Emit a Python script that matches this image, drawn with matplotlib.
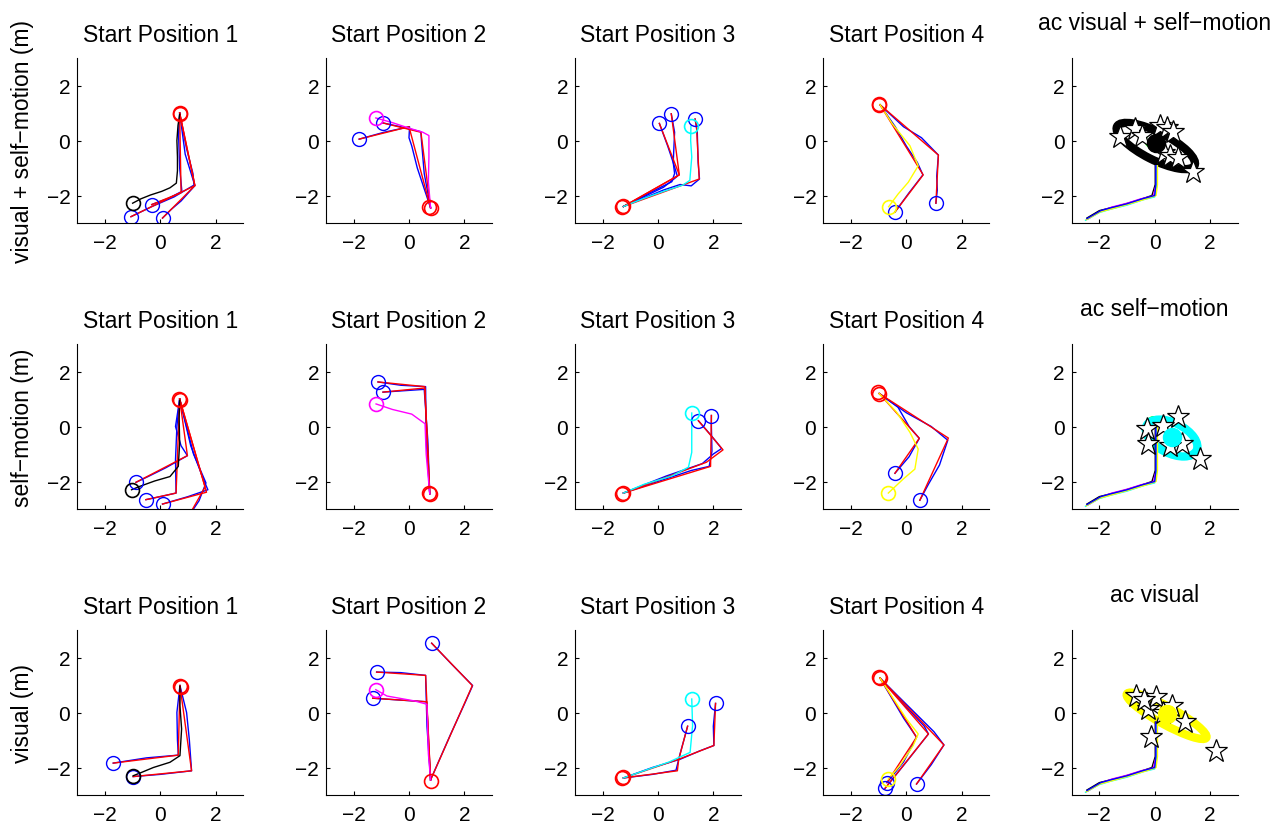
"""walking trajectories per start position, plus averaged ac panels"""
import matplotlib
matplotlib.use("Agg")
import matplotlib.pyplot as plt
from matplotlib.patches import Ellipse

plt.rcParams['font.family'] = ['Liberation Sans', 'DejaVu Sans']

row_labels = ['visual + self\u2212motion (m)', 'self\u2212motion (m)', 'visual (m)']
col_titles = ['Start Position 1', 'Start Position 2', 'Start Position 3', 'Start Position 4']
ac_titles = ['ac visual + self\u2212motion', 'ac self\u2212motion', 'ac visual']

# matlab-style pure colours
K, M, C, Y = '#000000', '#ff00ff', '#00ffff', '#ffff00'
B, R, G = '#0000ff', '#ff0000', '#00ff00'
ac_colors = [K, M, C, Y]   # colour of the ac path for start positions 1-4

# ---- row 1: visual + self-motion ----
vsm1_start = [(0.70, 1.00), (0.73, 0.96)]
vsm1_ac = [(0.70, 0.95), (0.64, 0.55), (0.60, 0.0), (0.62, -0.6), (0.62, -1.1), (0.58, -1.55),
           (0.35, -1.72), (0.05, -1.85), (-0.35, -1.98), (-0.70, -2.12), (-1.00, -2.28)]
vsm1_red = [[(0.70, 1.0), (0.75, -1.90), (-0.31, -2.33)],
            [(0.70, 1.0), (1.25, -1.64), (-1.06, -2.77)],
            [(0.70, 1.0), (1.25, -1.64), (0.08, -2.82)]]
vsm1_blue = [[(0.70, 1.0), (0.66, 0.2), (0.70, -1.0), (0.78, -1.85), (0.30, -2.10), (-0.31, -2.33)],
             [(0.70, 1.0), (0.95, -0.3), (1.18, -1.2), (1.22, -1.62), (0.50, -2.05), (-0.30, -2.40), (-1.06, -2.77)],
             [(0.70, 1.0), (0.90, -0.5), (1.25, -1.64), (0.75, -2.20), (0.40, -2.50), (0.08, -2.82)]]

vsm2_start = [(0.78, -2.47), (0.74, -2.42)]
vsm2_ac = [(0.78, -2.45), (0.70, -1.5), (0.72, -0.6), (0.72, 0.18), (0.50, 0.30), (0.0, 0.45),
           (-0.60, 0.65), (-1.20, 0.82)]
vsm2_red = [[(0.78, -2.45), (0.43, 0.30), (-0.95, 0.64)],
            [(0.78, -2.45), (0.0, 0.50), (-1.80, 0.05)]]
vsm2_blue = [[(0.78, -2.45), (0.55, -1.2), (0.45, 0.0), (0.43, 0.32), (-0.30, 0.50), (-0.95, 0.64)],
             [(0.78, -2.45), (0.30, -1.0), (0.10, -0.2), (0.0, 0.1), (0.02, 0.50), (-0.90, 0.30), (-1.80, 0.05)]]

vsm3_start = [(-1.30, -2.43), (-1.25, -2.38)]
vsm3_ac = [(-1.25, -2.40), (-0.50, -2.10), (0.20, -1.85), (0.90, -1.62), (1.15, -1.45), (1.22, -0.6),
           (1.18, 0.0), (1.19, 0.52)]
vsm3_red = [[(-1.25, -2.40), (0.77, -1.25), (0.05, 0.62)],
            [(-1.25, -2.40), (0.77, -1.25), (0.48, 0.97)],
            [(-1.25, -2.40), (1.49, -1.40), (1.39, 0.54), (1.34, 0.78)]]
vsm3_blue = [[(-1.25, -2.40), (-0.30, -1.90), (0.50, -1.50), (0.60, -1.20), (0.55, -0.80), (0.35, -0.20), (0.05, 0.62)],
             [(-1.25, -2.40), (0.20, -1.70), (0.70, -1.30), (0.55, -0.80), (0.60, 0.30), (0.48, 0.97)],
             [(-1.25, -2.40), (0.20, -1.80), (0.80, -1.60), (1.20, -1.65), (1.50, -1.40), (1.45, -0.80),
              (1.42, 0.30), (1.34, 0.78)]]

vsm4_start = [(-0.99, 1.33), (-0.97, 1.30)]
vsm4_ac = [(-0.95, 1.30), (-0.50, 0.60), (0.13, -0.19), (0.43, -0.92), (0.07, -1.52), (-0.30, -1.95),
           (-0.64, -2.41)]
vsm4_red = [[(-0.95, 1.30), (0.61, -1.25), (-0.41, -2.60)],
            [(-0.95, 1.30), (1.16, -0.53), (1.07, -2.28)]]
vsm4_blue = [[(-0.95, 1.30), (-0.40, 0.50), (0.0, -0.20), (0.40, -0.80), (0.60, -1.25), (0.10, -1.90), (-0.41, -2.60)],
             [(-0.95, 1.30), (-0.10, 0.50), (0.55, 0.10), (1.16, -0.53), (1.10, -1.30), (1.12, -1.80), (1.07, -2.28)]]

# ---- row 2: self-motion ----
sm1_start = [(0.69, 1.00), (0.72, 0.96)]
sm1_ac = [(0.70, 0.95), (0.68, 0.30), (0.70, -0.60), (0.65, -1.45), (0.35, -1.82), (-0.20, -1.98),
          (-0.75, -2.18), (-1.04, -2.30)]
sm1_red = [[(0.70, 1.0), (0.98, -1.06), (-0.88, -2.03)],
           [(0.70, 1.0), (0.57, -2.42), (-0.52, -2.66)],
           [(0.70, 1.0), (1.67, -2.39), (0.08, -2.82)],
           [(0.70, 1.0), (1.62, -2.20), (1.00, -3.30)]]
sm1_blue = [[(0.70, 1.0), (0.55, 0.0), (0.75, -0.7), (0.98, -1.06), (0.20, -1.50), (-0.40, -1.80), (-0.88, -2.03)],
            [(0.70, 1.0), (0.60, 0.0), (0.55, -1.2), (0.57, -2.42), (0.0, -2.55), (-0.52, -2.66)],
            [(0.70, 1.0), (1.10, -0.7), (1.55, -1.9), (1.72, -2.30), (1.00, -2.55), (0.08, -2.82)],
            [(0.70, 1.0), (1.20, -1.0), (1.65, -2.05), (1.40, -2.70), (1.00, -3.30)]]

sm2_start = [(0.75, -2.45), (0.72, -2.40)]
sm2_ac = [(0.75, -2.45), (0.62, -1.0), (0.58, 0.10), (0.10, 0.45), (-0.60, 0.62), (-1.19, 0.82)]
sm2_red = [[(0.75, -2.45), (0.57, 1.45), (-1.12, 1.62)],
           [(0.75, -2.45), (0.57, 1.40), (-0.94, 1.25)]]
sm2_blue = [[(0.75, -2.45), (0.62, -0.5), (0.60, 1.45), (-0.30, 1.50), (-1.12, 1.62)],
            [(0.75, -2.45), (0.68, -0.5), (0.55, 1.35), (-0.20, 1.30), (-0.94, 1.25)]]

sm3_start = [(-1.30, -2.45), (-1.25, -2.40)]
sm3_ac = [(-1.25, -2.42), (-0.50, -2.10), (0.50, -1.80), (1.10, -1.48), (1.22, -0.94), (1.22, -0.09),
          (1.22, 0.49)]
sm3_red = [[(-1.25, -2.42), (1.90, -1.45), (1.93, 0.40)],
           [(-1.25, -2.42), (1.75, -1.30), (2.35, -0.85), (1.46, 0.21)]]
sm3_blue = [[(-1.25, -2.42), (0.0, -2.0), (1.20, -1.60), (1.85, -1.45), (1.95, -0.90), (1.93, 0.0), (1.93, 0.40)],
            [(-1.25, -2.42), (0.30, -1.80), (1.60, -1.35), (2.00, -1.00), (2.30, -0.80), (1.90, -0.30), (1.46, 0.21)]]

sm4_start = [(-1.01, 1.24), (-0.98, 1.20)]
sm4_ac = [(-0.98, 1.20), (-0.35, 0.52), (0.13, -0.21), (0.43, -0.82), (0.31, -1.55), (-0.11, -1.91),
          (-0.65, -2.42)]
sm4_red = [[(-0.98, 1.20), (0.47, -0.43), (-0.41, -1.70)],
           [(-0.98, 1.20), (1.52, -0.42), (0.49, -2.68)]]
sm4_blue = [[(-0.98, 1.20), (-0.30, 0.70), (0.10, 0.0), (0.47, -0.43), (0.10, -1.10), (-0.41, -1.70)],
            [(-0.98, 1.20), (0.0, 0.50), (0.90, 0.0), (1.50, -0.50), (1.20, -1.40), (0.80, -2.10), (0.49, -2.68)]]

# ---- row 3: visual ----
v1_start = [(0.71, 0.98), (0.74, 0.94)]
v1_ac = [(0.71, 0.95), (0.71, 0.25), (0.77, -0.60), (0.71, -1.57), (0.35, -1.81), (-0.25, -2.00),
         (-0.73, -2.20), (-0.98, -2.30)]
v1_red = [[(0.71, 0.98), (0.65, -1.55), (-1.70, -1.84)],
          [(0.71, 0.98), (1.13, -2.12), (-0.98, -2.33)]]
v1_blue = [[(0.71, 0.98), (0.60, 0.0), (0.62, -1.0), (0.65, -1.55), (-0.50, -1.65), (-1.70, -1.84)],
           [(0.71, 0.98), (0.95, 0.0), (1.05, -1.0), (1.13, -2.12), (0.0, -2.25), (-0.98, -2.33)]]

v2_start = [(0.78, -2.48)]
v2_ac = [(0.78, -2.45), (0.70, -1.50), (0.65, 0.30), (0.20, 0.42), (-0.80, 0.60), (-1.20, 0.83)]
v2_red = [[(0.78, -2.45), (2.29, 0.98), (0.82, 2.52)],
          [(0.78, -2.45), (0.60, 1.35), (-1.17, 1.47)],
          [(0.78, -2.45), (0.64, 0.39), (-1.31, 0.52)]]
v2_blue = [[(0.78, -2.45), (1.50, -0.80), (2.00, 0.30), (2.30, 0.98), (1.50, 1.80), (0.82, 2.52)],
           [(0.78, -2.45), (0.65, -0.50), (0.60, 1.35), (-0.30, 1.45), (-1.17, 1.47)],
           [(0.78, -2.45), (0.70, -1.00), (0.64, 0.39), (-0.30, 0.45), (-1.31, 0.52)]]

v3_start = [(-1.30, -2.39), (-1.25, -2.34)]
v3_ac = [(-1.25, -2.38), (-0.60, -2.15), (0.40, -1.80), (1.16, -1.45), (1.25, -0.48), (1.22, 0.49)]
v3_red = [[(-1.25, -2.38), (0.70, -2.12), (0.75, -1.70), (1.07, -0.50)],
          [(-1.25, -2.38), (0.75, -1.70), (2.02, -1.20), (2.08, 0.33)]]
v3_blue = [[(-1.25, -2.38), (-0.20, -2.25), (0.65, -2.10), (0.80, -1.50), (1.07, -0.50)],
           [(-1.25, -2.38), (-0.20, -2.00), (0.80, -1.70), (1.50, -1.40), (2.02, -1.20), (2.00, -0.50), (2.08, 0.33)]]

v4_start = [(-0.98, 1.28), (-0.95, 1.24)]
v4_ac = [(-0.95, 1.25), (0.01, -0.24), (0.43, -0.78), (0.25, -1.20), (-0.23, -1.93), (-0.65, -2.42)]
v4_red = [[(-0.95, 1.25), (0.80, -0.78), (-0.77, -2.76)],
          [(-0.95, 1.25), (1.36, -1.18), (0.37, -2.60)],
          [(-0.95, 1.25), (0.37, -0.90), (-0.70, -2.55)]]
v4_blue = [[(-0.95, 1.25), (0.0, 0.20), (0.65, -0.50), (0.80, -0.78), (0.0, -1.80), (-0.77, -2.76)],
           [(-0.95, 1.25), (0.20, 0.10), (1.00, -0.70), (1.36, -1.18), (0.90, -1.90), (0.37, -2.60)],
           [(-0.95, 1.25), (-0.10, -0.20), (0.37, -0.90), (-0.10, -1.80), (-0.70, -2.55)]]

# ---- fifth column: averaged ac paths ----
mean_black = [(-2.45, -2.82), (-2.00, -2.55), (-1.60, -2.45), (-1.20, -2.35), (-0.60, -2.17), (-0.10, -2.00), (0.02, -1.60)]
mean_magenta = [(-2.42, -2.86), (-1.95, -2.57), (-1.55, -2.42), (-1.00, -2.28), (-0.50, -2.12), (-0.05, -2.02), (0.05, -1.60)]
mean_cyan = [(-2.50, -2.90), (-2.00, -2.62), (-1.60, -2.50), (-1.00, -2.35), (-0.40, -2.15), (0.0, -2.05), (0.08, -1.60)]
mean_yellow = [(-2.47, -2.88), (-1.98, -2.60), (-1.50, -2.47), (-0.90, -2.30), (-0.30, -2.12), (0.05, -2.00), (0.10, -1.60)]
mean_blue = [(-2.45, -2.84), (-1.95, -2.55), (-1.60, -2.45), (-1.00, -2.30), (-0.45, -2.12), (0.0, -2.00), (0.04, -1.60)]
mean_top_y = [-0.92, 0.05, -0.35]          # where the mean paths end, per row

ac_ell_color = [K, C, Y]
ac_ell_center = [(0.04, -0.20), (0.61, -0.42), (0.43, -0.12)]
ac_ell_a = [1.57, 1.01, 1.64]
ac_ell_b = [0.50, 0.55, 0.32]
ac_ell_angle = [-27, -27, -29]
ac_dot = [(0.05, -0.09), (0.61, -0.39), (0.43, -0.06)]
ac_green = [(-0.03, 0.03, 0.30), (-0.05, 0.15, 0.18), (-0.20, 0.25, 0.05)]
stars_vsm = [(-1.25, 0.12), (-0.73, 0.42), (-0.45, 0.15), (0.19, 0.54), (0.43, 0.44), (0.67, 0.30),
             (0.35, -0.45), (0.55, -0.55), (0.86, -0.65), (1.40, -1.16)]
stars_sm = [(0.86, 0.33), (-0.29, -0.09), (-0.23, -0.64), (0.31, 0.03), (0.98, -0.64), (0.55, -0.70),
            (1.64, -1.18)]
stars_v = [(-0.67, 0.61), (-0.23, 0.13), (0.05, 0.55), (0.61, 0.25), (1.10, -0.36), (0.30, 0.0),
           (-0.14, -0.90), (2.22, -1.39), (-0.40, 0.45)]

panels = [[(vsm1_start, vsm1_ac, vsm1_red, vsm1_blue), (vsm2_start, vsm2_ac, vsm2_red, vsm2_blue),
           (vsm3_start, vsm3_ac, vsm3_red, vsm3_blue), (vsm4_start, vsm4_ac, vsm4_red, vsm4_blue)],
          [(sm1_start, sm1_ac, sm1_red, sm1_blue), (sm2_start, sm2_ac, sm2_red, sm2_blue),
           (sm3_start, sm3_ac, sm3_red, sm3_blue), (sm4_start, sm4_ac, sm4_red, sm4_blue)],
          [(v1_start, v1_ac, v1_red, v1_blue), (v2_start, v2_ac, v2_red, v2_blue),
           (v3_start, v3_ac, v3_red, v3_blue), (v4_start, v4_ac, v4_red, v4_blue)]]
stars = [stars_vsm, stars_sm, stars_v]

LW = 1.0
MS = 10
FS_TICK = 15
FS_TEXT = 16.5


def xy(path):
    xs, ys = zip(*path)
    return list(xs), list(ys)


def style(ax):
    ax.set_xlim(-3, 3)
    ax.set_ylim(-3, 3)
    ax.set_xticks([-2, 0, 2])
    ax.set_yticks([-2, 0, 2])
    ax.spines['right'].set_visible(False)
    ax.spines['top'].set_visible(False)
    ax.tick_params(direction='in', length=3, labelsize=FS_TICK, width=0.8)
    ax.tick_params(axis='x', pad=7)
    ax.tick_params(axis='y', pad=5)


def draw_trials(ax, start, ac, red, blue, ac_color):
    for p in blue:
        ax.plot(*xy(p), color=B, lw=LW)
    for p in red:
        ax.plot(*xy(p), color=R, lw=LW)
    ax.plot(*xy(ac), color=ac_color, lw=LW)
    for p in blue:
        ax.plot(p[-1][0], p[-1][1], 'o', mfc='none', mec=B, ms=MS, mew=1.0)
    ax.plot(ac[-1][0], ac[-1][1], 'o', mfc='none', mec=ac_color, ms=MS, mew=1.2)
    for s in start:
        ax.plot(s[0], s[1], 'o', mfc='none', mec=R, ms=MS, mew=1.2)


def draw_mean(ax, row):
    for path, c in zip([mean_black, mean_magenta, mean_cyan, mean_yellow, mean_blue],
                       [K, M, C, Y, B]):
        px, py = xy(path)
        px.append(path[-1][0])
        py.append(mean_top_y[row])
        ax.plot(px, py, color=c, lw=LW)
    sx, sy = xy(stars[row])
    ax.plot(sx, sy, '*', mfc='white', mec='k', ms=17, mew=0.9, ls='none')
    gx, gy, gr = ac_green[row]
    ax.add_patch(Ellipse((gx, gy), 2 * gr, 2 * gr, fill=False, edgecolor=G, lw=2))
    ax.add_patch(Ellipse(ac_ell_center[row], 2 * ac_ell_a[row], 2 * ac_ell_b[row],
                         angle=ac_ell_angle[row], fill=False, edgecolor=ac_ell_color[row], lw=6))
    ax.plot(ac_dot[row][0], ac_dot[row][1], 'o', color=ac_ell_color[row], ms=13)


fig = plt.figure(figsize=(12.88, 8.28), dpi=100)
col_left = [77.3, 326, 575, 823.3, 1071.7]
row_top = [59, 345, 631]
W, H = 166, 165

for r in range(3):
    for c in range(5):
        ax = fig.add_axes([col_left[c] / 1288, 1 - (row_top[r] + H) / 828, W / 1288, H / 828])
        style(ax)
        if c < 4:
            start, ac, red, blue = panels[r][c]
            draw_trials(ax, start, ac, red, blue, ac_colors[c])
            ax.set_title(col_titles[c], fontsize=FS_TEXT, pad=12)
        else:
            draw_mean(ax, r)
            ax.set_title(ac_titles[r], fontsize=FS_TEXT, pad=21)
        if c == 0:
            ax.set_ylabel(row_labels[r], fontsize=FS_TEXT, labelpad=9)

fig.savefig('out.png', dpi=100)
